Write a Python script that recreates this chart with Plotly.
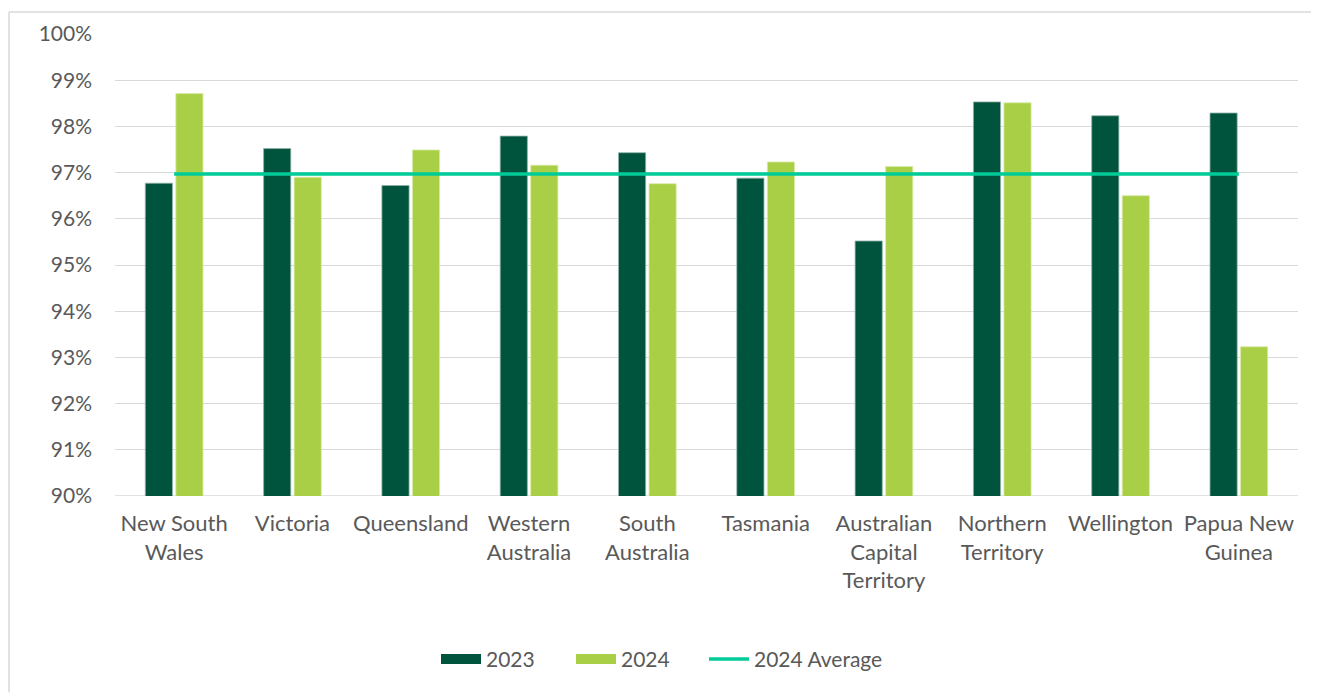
import plotly.graph_objects as go

categories = ["New South<br>Wales", "Victoria", "Queensland", "Western<br>Australia",
              "South<br>Australia", "Tasmania", "Australian<br>Capital<br>Territory",
              "Northern<br>Territory", "Wellington", "Papua New<br>Guinea"]
values_2023 = [96.77, 97.52, 96.72, 97.79, 97.43, 96.88, 95.52, 98.53, 98.23, 98.29]
values_2024 = [98.71, 96.90, 97.49, 97.16, 96.76, 97.23, 97.13, 98.51, 96.50, 93.23]
average_2024 = [96.97] * len(categories)
y_ticks = [90, 91, 92, 93, 94, 95, 96, 97, 98, 99, 100]
y_tick_labels = [f"{v}%" for v in y_ticks]

FONT = "Lato, 'Open Sans', sans-serif"
TXT = "#595959"
C23, C24, CAVG = "#00533C", "#A8CF45", "#00CC99"

fig = go.Figure()
fig.add_trace(go.Bar(x=categories, y=values_2023, name="2023", showlegend=False,
                     marker=dict(color=C23, line=dict(color="#8FB3A8", width=0.8))))
fig.add_trace(go.Bar(x=categories, y=values_2024, name="2024", showlegend=False,
                     marker=dict(color=C24, line=dict(color="#D8EBA8", width=0.8))))
fig.add_trace(go.Scatter(x=categories, y=average_2024, name="2024 Average", mode="lines",
                         showlegend=False, line=dict(color=CAVG, width=3.5)))
# legend entries
fig.add_trace(go.Scatter(x=[None], y=[None], name="2023", mode="lines", legend="legend",
                         line=dict(color=C23, width=14)))
fig.add_trace(go.Scatter(x=[None], y=[None], name="2024", mode="lines", legend="legend",
                         line=dict(color=C24, width=14)))
fig.add_trace(go.Scatter(x=[None], y=[None], name="2024 Average", mode="lines", legend="legend2",
                         line=dict(color=CAVG, width=3.5)))

PW, PH = 1183, 464
leg_common = dict(orientation="h", xanchor="left", y=-164 / PH, yanchor="middle",
                  font=dict(family=FONT, size=21, color=TXT), itemwidth=40,
                  traceorder="normal", bgcolor="rgba(0,0,0,0)")
fig.update_layout(
    width=1311, height=685,
    margin=dict(l=107, r=21, t=24, b=197),
    paper_bgcolor="white", plot_bgcolor="white",
    barmode="group", bargap=0.484, bargroupgap=0.11,
    font=dict(family=FONT, size=21, color=TXT),
    showlegend=True,
    legend=dict(x=(428 - 107) / PW, entrywidth=80, entrywidthmode="pixels", **leg_common),
    legend2=dict(x=(696 - 107) / PW, **leg_common),
    xaxis=dict(showline=False, ticks="", ticklabelstandoff=12,
               tickfont=dict(size=22, color=TXT, family=FONT)),
    yaxis=dict(range=[90, 100], tickvals=y_ticks, ticktext=y_tick_labels,
               showgrid=True, gridcolor="#D9D9D9", gridwidth=1.3, zeroline=False,
               showline=False, ticks="", ticklen=0, ticklabelstandoff=22,
               tickfont=dict(size=21, color=TXT, family=FONT)),
    shapes=[
        dict(type="line", xref="paper", yref="paper", x0=(1 - 107) / PW, x1=(1311 - 107) / PW,
             y0=(488 - 2) / PH, y1=(488 - 2) / PH, line=dict(color="#D9D9D9", width=1.5)),
        dict(type="line", xref="paper", yref="paper", x0=(1 - 107) / PW, x1=(1 - 107) / PW,
             y0=(488 - 2) / PH, y1=(488 - 685) / PH, line=dict(color="#D9D9D9", width=1.5)),
        dict(type="line", xref="paper", yref="y", x0=0, x1=1, y0=90, y1=90,
             line=dict(color="#D9D9D9", width=1.5), layer="below"),
    ],
)
fig.write_html("out.html")
